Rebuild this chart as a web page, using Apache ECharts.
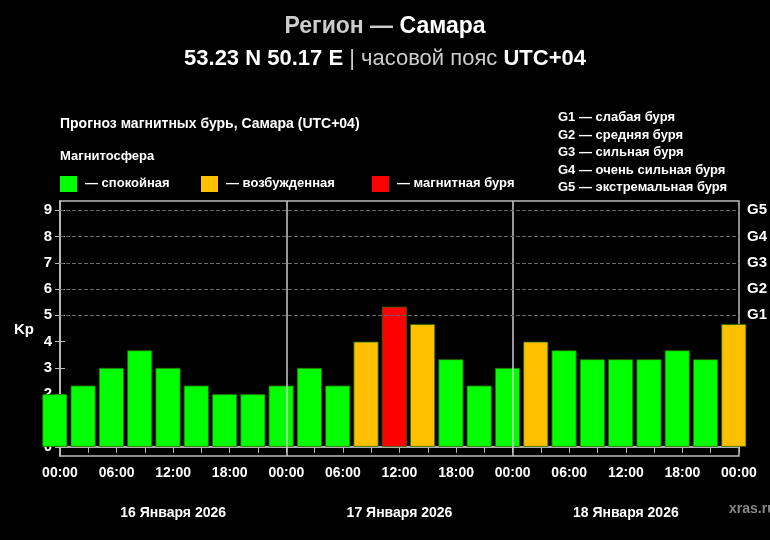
<!DOCTYPE html>
<html><head><meta charset="utf-8">
<script src="https://cdn.jsdelivr.net/npm/echarts@6/dist/echarts.min.js"></script>
<style>html,body{margin:0;background:#000}#c{width:770px;height:540px}</style>
</head><body><div id="c"></div>
<script>
const hours = [-0.55,2.45,5.45,8.45,11.45,14.45,17.45,20.45,23.45,26.45,29.45,32.45,35.45,38.45,41.45,44.45,47.45,50.45,53.45,56.45,59.45,62.45,65.45,68.45,71.45];
const kp = [2,2.33,3,3.67,3,2.33,2,2,2.33, 3,2.33,4,5.33,4.67,3.33,2.33,3, 4,3.67,3.33,3.33,3.33,3.67,3.33,4.67];
const dayLabels = ['16 Января 2026','17 Января 2026','18 Января 2026'];
const gLabels = ['G1','G2','G3','G4','G5'];
const gText = ['G1 — слабая буря','G2 — средняя буря','G3 — сильная буря','G4 — очень сильная буря','G5 — экстремальная буря'];
function col(v){return v>=5?'#ff0000':(v>=4?'#ffc000':'#00ff00');}
const F='"Liberation Sans",Arial,sans-serif';
const chart = echarts.init(document.getElementById('c'));
const gfx=[];
gText.forEach((t,i)=>gfx.push({type:'text',left:558,top:111+i*17.5,style:{text:t,fill:'#fff',font:'bold 13px '+F}}));
gfx.push({type:'text',left:60,top:117,style:{text:'Прогноз магнитных бурь, Самара (UTC+04)',fill:'#fff',font:'bold 14px '+F}});
gfx.push({type:'text',left:60,top:150,style:{text:'Магнитосфера',fill:'#fff',font:'bold 13px '+F}});
[['#00ff00','— спокойная',60],['#ffc000','— возбужденная',201],['#ff0000','— магнитная буря',372]].forEach(l=>{
 gfx.push({type:'rect',shape:{x:l[2],y:176,width:17,height:16},style:{fill:l[0]}});
 gfx.push({type:'text',left:l[2]+25,top:177,style:{text:l[1],fill:'#fff',font:'bold 13px '+F}});
});
gfx.push({type:'text',left:14,top:322,style:{text:'Kp',fill:'#fff',font:'bold 15px '+F}});
gfx.push({type:'text',left:729,top:502,style:{text:'xras.ru',fill:'#888',font:'bold 14px '+F}});
chart.setOption({
 backgroundColor:'#000',
 title:{left:'center',top:10,itemGap:10,
  text:'{n|Регион — }{b|Самара}',
  subtext:'{b|53.23 N 50.17 E}{n| | часовой пояс }{b|UTC+04}',
  textStyle:{rich:{n:{color:'#ccc',fontSize:23,fontFamily:F},b:{color:'#fff',fontSize:23,fontWeight:'bold',fontFamily:F}}},
  subtextStyle:{rich:{n:{color:'#ccc',fontSize:22,fontFamily:F},b:{color:'#fff',fontSize:22,fontWeight:'bold',fontFamily:F}}}
 },
 graphic:gfx,
 grid:{left:60,right:28,top:201,bottom:84,show:true,borderColor:'#bbb',borderWidth:1.5,backgroundColor:'transparent'},
 xAxis:[
  {type:'value',min:0,max:72,interval:3,position:'bottom',
   axisLine:{lineStyle:{color:'#bbb',width:1.5}},axisTick:{length:6,lineStyle:{color:'#bbb'}},splitLine:{show:false},
   axisLabel:{color:'#fff',fontWeight:'bold',fontSize:14,fontFamily:F,margin:10,
     formatter:v=>v%6===0?String(v%24).padStart(2,'0')+':00':''}},
  {type:'value',min:0,max:72,interval:24,position:'bottom',offset:42,
   axisLine:{show:true,lineStyle:{color:'#bbb',width:1.5}},axisTick:{show:true,inside:true,length:8,lineStyle:{color:'#bbb',width:1.5}},
   splitLine:{show:false},axisLabel:{show:false}},
  {type:'value',min:0,max:72,interval:12,position:'bottom',offset:44,
   axisLine:{show:false},axisTick:{show:false},splitLine:{show:false},
   axisLabel:{color:'#fff',fontWeight:'bold',fontSize:14,fontFamily:F,margin:6,
     formatter:v=>(v%24===12)?dayLabels[(v-12)/24]:''}}
 ],
 yAxis:[
  {type:'value',min:-0.35,max:9.35,interval:1,
   axisLine:{show:true,lineStyle:{color:'#bbb',width:1.5}},axisTick:{show:true,lineStyle:{color:'#bbb'}},
   axisLabel:{color:'#fff',fontWeight:'bold',fontSize:15,fontFamily:F,customValues:[0,1,2,3,4,5,6,7,8,9]},
   axisTick:{show:true,customValues:[0,1,2,3,4,5,6,7,8,9],lineStyle:{color:'#bbb'}},
   splitLine:{show:false}},
  {type:'value',min:-0.35,max:9.35,position:'right',
   axisLine:{show:true,lineStyle:{color:'#bbb',width:1.5}},
   axisTick:{show:true,customValues:[0,1,2,3,4,5,6,7,8,9],lineStyle:{color:'#bbb'}},
   axisLabel:{color:'#fff',fontWeight:'bold',fontSize:15,fontFamily:F,customValues:[5,6,7,8,9],formatter:v=>gLabels[Math.round(v)-5]},
   splitLine:{show:false}}
 ],
 series:[
  {type:'bar',data:hours.map((h,i)=>({value:[h,kp[i]],itemStyle:{color:col(kp[i])}})),
   barWidth:25,itemStyle:{borderColor:'#2a6a00',borderWidth:0.8},clip:true,
   markLine:{silent:true,symbol:'none',label:{show:false},
    data:[{xAxis:24},{xAxis:48}].concat([5,6,7,8,9].map(v=>({yAxis:v,lineStyle:{type:'dashed',color:'#666',width:1}}))),
    lineStyle:{color:'#ccc',width:1.5,type:'solid'}}}
 ]
});
</script></body></html>
